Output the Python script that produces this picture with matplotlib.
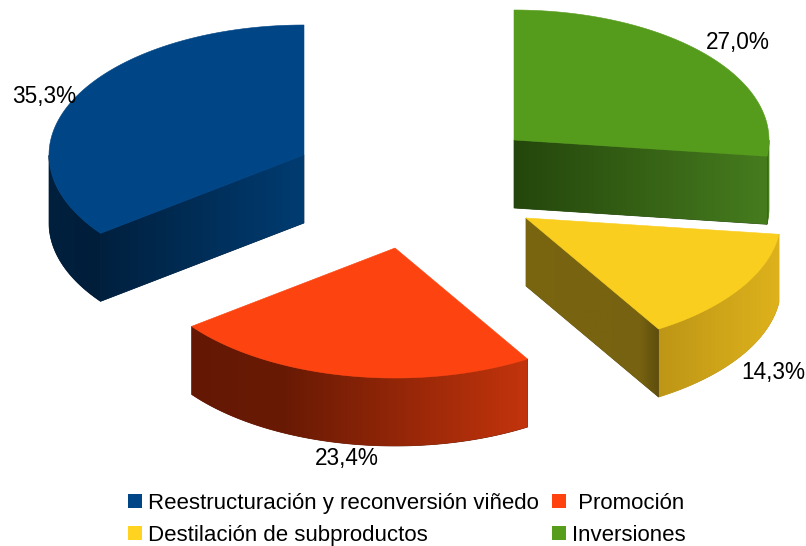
import numpy as np
import matplotlib
matplotlib.use("Agg")
import matplotlib.pyplot as plt
from matplotlib.patches import Patch, Polygon

categories = ["Reestructuración y reconversión viñedo", "Promoción",
              "Destilación de subproductos", "Inversiones"]
values = [35.3, 23.4, 14.3, 27.0]
value_labels = ["35,3%", "23,4%", "14,3%", "27,0%"]
colors = ["#004586", "#ff420e", "#ffd320", "#579d1c"]
top_colors = ["#004586", "#fd430f", "#f9ce1e", "#569c1c"]

plt.rcParams["font.family"] = ["Liberation Sans", "DejaVu Sans"]

RX, RY, DEPTH = 255.0, 130.0, 68.0
centers = [(304, 155), (395, 248), (526, 218), (514, 140)]
label_pos = [(44, 97), (347, 458), (773, 372), (738, 42)]
arc_shade = [
    [(50, (0, 32, 62)), (100, (0, 30, 58))],
    [(191, (100, 24, 4)), (285, (105, 26, 4)), (527, (195, 52, 12))],
    [(658, (190, 150, 22)), (779, (222, 178, 28))],
    [(755, (70, 122, 30)), (770, (72, 125, 30))],
]
cut_shade = [
    [(100, (0, 32, 62)), (304, (0, 60, 114))],
    None,
    [(526, (122, 102, 16)), (640, (118, 98, 16)), (658, (95, 78, 14))],
    [(514, (36, 70, 12)), (767, (70, 124, 30))],
]

fig = plt.figure(figsize=(8.06, 5.46), dpi=100)
ax = fig.add_axes([0, 0, 1, 1])
ax.axis("off")

total = sum(values)
edges = 90 + np.cumsum([0] + values) / total * 360


def point(c, deg):
    t = np.radians(deg)
    return c[0] + RX * np.cos(t), c[1] - RY * np.sin(t)


def wall(top_edge, stops, z):
    """wall hanging below a top edge, filled with a left-to-right gradient"""
    top_edge = np.asarray(top_edge, float)
    bottom = top_edge[::-1] + [0, DEPTH]
    outline = np.vstack([top_edge, bottom])
    x0, x1 = outline[:, 0].min(), outline[:, 0].max()
    y0, y1 = outline[:, 1].min(), outline[:, 1].max()
    xs = np.linspace(x0, x1, 400)
    sx = [s[0] for s in stops]
    rgb = np.array([s[1] for s in stops], float)
    grad = np.stack([np.interp(xs, sx, rgb[:, k]) for k in range(3)], axis=-1) / 255
    base = rgb[rgb.sum(axis=1).argmin()] / 255
    ax.add_patch(Polygon(outline, closed=True, facecolor=base, edgecolor=base,
                         linewidth=0.5, zorder=z - 0.5))
    poly = Polygon(outline, closed=True, transform=ax.transData,
                   facecolor="none", edgecolor="none")
    ax.add_patch(poly)
    im = ax.imshow(grad[np.newaxis, :, :], extent=(x0, x1, y1, y0), aspect="auto",
                   interpolation="bilinear", zorder=z)
    im.set_clip_path(poly)


draw_order = [3, 0, 2, 1]
# the cut wall facing the viewer lies on this edge of each slice
cut_edge = {0: 1, 2: 0, 3: 0}
for rank, i in enumerate(draw_order):
    c = centers[i]
    a0, a1 = edges[i], edges[i + 1]
    z = 2 + rank * 3
    angs = np.linspace(a0, a1, 300)
    keep = np.sin(np.radians(angs)) <= 0
    if keep.any():
        wall([point(c, a) for a in angs[keep]], arc_shade[i], z)
    if cut_shade[i] is not None:
        wall([c, point(c, edges[i + cut_edge[i]])], cut_shade[i], z + 1)
    pts = [c] + [point(c, a) for a in angs]
    ax.add_patch(Polygon(pts, closed=True, facecolor=top_colors[i],
                         edgecolor=top_colors[i], linewidth=0.4, zorder=z + 2))

for lab, (x, y) in zip(value_labels, label_pos):
    ax.text(x, y, lab, fontsize=16.3, ha="center", va="center",
            color="black", zorder=30)

handles = [Patch(facecolor=colors[0], label=categories[0]),
           Patch(facecolor=colors[2], label=categories[2]),
           Patch(facecolor=colors[1], label=" " + categories[1]),
           Patch(facecolor=colors[3], label=categories[3])]
ax.set_xlim(0, 806)
ax.set_ylim(546, 0)
ax.legend(handles=handles, ncols=2, loc="lower left",
          bbox_to_anchor=(128 / 806, 0.0), frameon=False, fontsize=16.0,
          handlelength=0.62, handleheight=0.62, handletextpad=0.28,
          columnspacing=0.6, labelspacing=0.5, borderpad=0, borderaxespad=0)

fig.savefig("out.png", dpi=100)
